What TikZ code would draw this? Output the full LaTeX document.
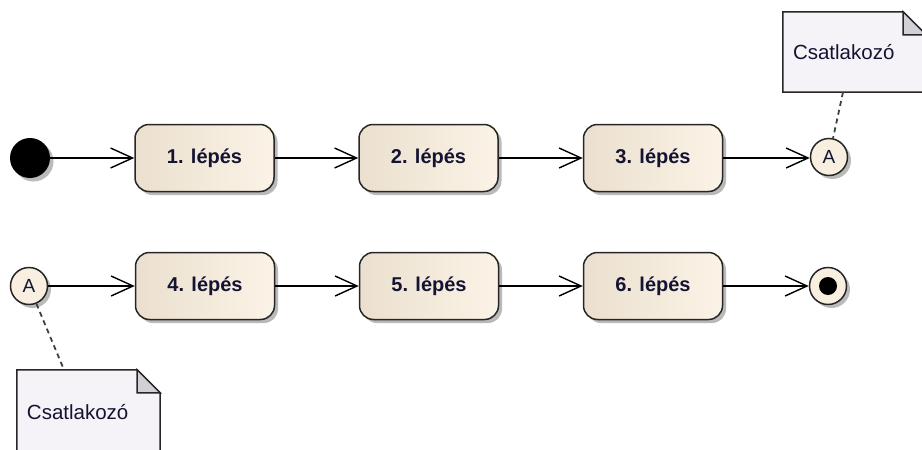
\documentclass[tikz,border=0pt]{standalone}
\usepackage{fontspec}
\setmainfont{Liberation Sans}
\usetikzlibrary{arrows.meta,shadows,backgrounds}
\definecolor{boxL}{HTML}{EBE0CF}
\definecolor{boxR}{HTML}{FBF3E6}
\definecolor{txt}{HTML}{141432}
\definecolor{notefill}{HTML}{F6F3F8}
\definecolor{foldfill}{HTML}{D3CFD6}
\definecolor{circfill}{HTML}{F8EFE0}
\begin{document}
\begin{tikzpicture}[x=1pt,y=-1pt,
  shad/.style={drop shadow={shadow xshift=3.5pt, shadow yshift=-3.5pt, fill=black!45, opacity=0.6}},
  stepbox/.style={draw=black!85, line width=1.5pt, rounded corners=14pt,
    minimum width=139pt, minimum height=67pt, left color=boxL, right color=boxR,
    font=\fontsize{20}{22}\selectfont\bfseries, text=txt, shad},
  startdot/.style={circle, fill=black, minimum size=40pt, inner sep=0pt, shad},
  conn/.style={circle, draw=black!85, line width=1.5pt, fill=circfill, minimum size=37pt,
    inner sep=0pt, font=\fontsize{19}{20}\selectfont, text=txt, shad},
  notetext/.style={minimum width=143pt, text width=123pt, align=left, inner xsep=10pt,
    font=\fontsize{20.5}{22}\selectfont, text=txt},
  flow/.style={line width=1.4pt, -{Straight Barb[length=22pt,width=20pt,line width=1.4pt]}},
  notelink/.style={line width=1.8pt, black!75, dash pattern=on 5pt off 4pt},
  noteline/.style={draw=black!85, line width=1.5pt}
]
\useasboundingbox (0,0) rectangle (922,450);

% row 1
\node[startdot] (start) at (30,158) {};
\node[stepbox] (s1) at (204.5,158) {1. lépés};
\node[stepbox] (s2) at (428.5,158) {2. lépés};
\node[stepbox] (s3) at (653,158) {3. lépés};
\node[conn] (cA1) at (829,157) {A};

% row 2
\node[conn] (cA2) at (29,286) {A};
\node[stepbox] (s4) at (205,286) {4. lépés};
\node[stepbox] (s5) at (429,286) {5. lépés};
\node[stepbox] (s6) at (653,286) {6. lépés};
\node[conn] (fin) at (828,286) {};
\node[circle, fill=black, minimum size=18pt, inner sep=0pt] (finDot) at (fin.center) {};

% notes
\node[notetext, minimum height=80pt] (n1) at (854.5,52) {Csatlakozó};
\node[notetext, minimum height=85pt] (n2) at (88.5,412.5) {Csatlakozó};

\begin{scope}[on background layer]
  \foreach \n in {n1,n2}{
    \fill[black!45, opacity=0.6, xshift=3.5pt, yshift=-3.5pt]
      (\n.north west) -- ([xshift=-23pt]\n.north east) -- ([yshift=-23pt]\n.north east)
      -- (\n.south east) -- (\n.south west) -- cycle;
    \draw[noteline, fill=notefill]
      (\n.north west) -- ([xshift=-23pt]\n.north east) -- ([yshift=-23pt]\n.north east)
      -- (\n.south east) -- (\n.south west) -- cycle;
    \draw[noteline, fill=foldfill]
      ([xshift=-23pt]\n.north east) -- ([xshift=-23pt,yshift=-23pt]\n.north east)
      -- ([yshift=-23pt]\n.north east) -- cycle;
  }
\end{scope}

% connectors
\draw[flow] (start) -- (s1);
\draw[flow] (s1) -- (s2);
\draw[flow] (s2) -- (s3);
\draw[flow] (s3) -- (s3 -| cA1.west);
\draw[flow] (cA2) -- (s4);
\draw[flow] (s4) -- (s5);
\draw[flow] (s5) -- (s6);
\draw[flow] (s6) -- (fin);

% note links
\draw[notelink] ([xshift=-11.5pt]n1.south) -- (cA1);
\draw[notelink] (cA2) -- ([xshift=-24.5pt]n2.north);
\end{tikzpicture}
\end{document}
